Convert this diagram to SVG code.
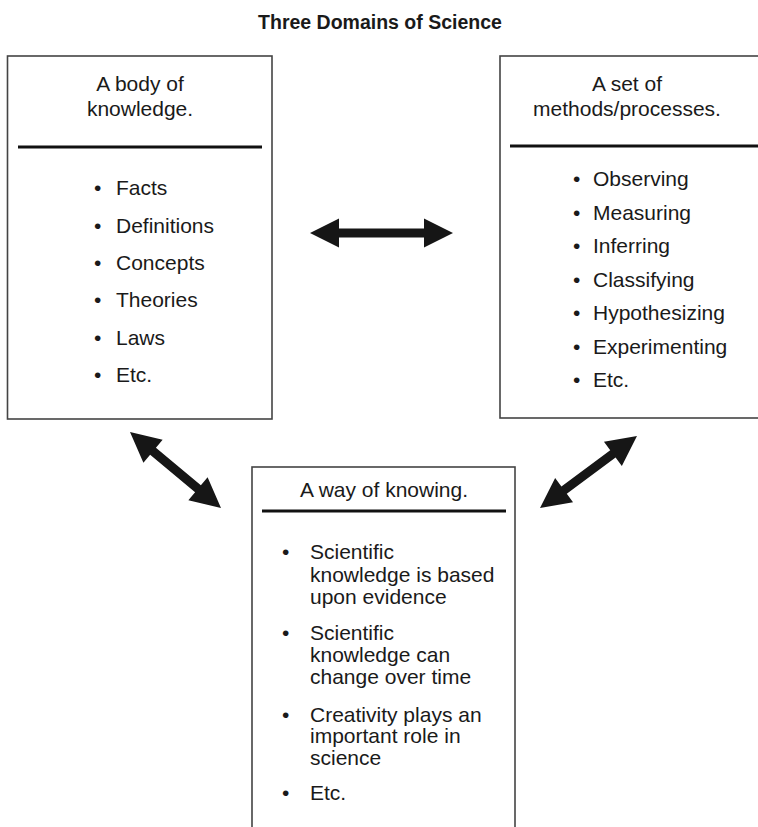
<svg xmlns="http://www.w3.org/2000/svg" width="758" height="827" viewBox="0 0 758 827">
<defs>
<style>
.t{font-family:"Liberation Sans",Arial,sans-serif;font-size:21px;fill:#1a1a1a}
.h{text-anchor:middle}
.title{font-family:"Liberation Sans",Arial,sans-serif;font-size:19.5px;font-weight:bold;fill:#1a1a1a;text-anchor:middle}
.box{fill:#fff;stroke:#444;stroke-width:1.6}
.rule{stroke:#111;stroke-width:3.2}
.arr{fill:#161616}
</style>
</defs>
<rect width="758" height="827" fill="#fff"/>
<text class="title" x="380" y="29">Three Domains of Science</text>

<g id="node-knowledge">
<rect class="box" x="7.5" y="56" width="264.5" height="363"/>
<text class="t h" x="140" y="91">A body of</text>
<text class="t h" x="140" y="116">knowledge.</text>
<line class="rule" x1="18" y1="147" x2="262" y2="147"/>
<text class="t" x="94" y="195">•</text><text class="t" x="116" y="195">Facts</text>
<text class="t" x="94" y="232.5">•</text><text class="t" x="116" y="232.5">Definitions</text>
<text class="t" x="94" y="270">•</text><text class="t" x="116" y="270">Concepts</text>
<text class="t" x="94" y="307">•</text><text class="t" x="116" y="307">Theories</text>
<text class="t" x="94" y="344.5">•</text><text class="t" x="116" y="344.5">Laws</text>
<text class="t" x="94" y="382">•</text><text class="t" x="116" y="382">Etc.</text>
</g>

<g id="node-methods">
<rect class="box" x="500" y="56" width="280" height="362"/>
<text class="t h" x="627" y="91">A set of</text>
<text class="t h" x="627" y="116">methods/processes.</text>
<line class="rule" x1="510" y1="146" x2="758" y2="146"/>
<text class="t" x="573" y="186">•</text><text class="t" x="593" y="186">Observing</text>
<text class="t" x="573" y="219.5">•</text><text class="t" x="593" y="219.5">Measuring</text>
<text class="t" x="573" y="253">•</text><text class="t" x="593" y="253">Inferring</text>
<text class="t" x="573" y="286.5">•</text><text class="t" x="593" y="286.5">Classifying</text>
<text class="t" x="573" y="320">•</text><text class="t" x="593" y="320">Hypothesizing</text>
<text class="t" x="573" y="353.5">•</text><text class="t" x="593" y="353.5">Experimenting</text>
<text class="t" x="573" y="387">•</text><text class="t" x="593" y="387">Etc.</text>
</g>

<g id="node-knowing">
<rect class="box" x="252" y="467" width="263" height="380"/>
<text class="t h" x="384" y="497">A way of knowing.</text>
<line class="rule" x1="262" y1="511" x2="506" y2="511"/>
<text class="t" x="282" y="559">•</text>
<text class="t" x="310" y="559">Scientific</text>
<text class="t" x="310" y="581.5">knowledge is based</text>
<text class="t" x="310" y="604">upon evidence</text>
<text class="t" x="282" y="639.5">•</text>
<text class="t" x="310" y="639.5">Scientific</text>
<text class="t" x="310" y="662">knowledge can</text>
<text class="t" x="310" y="684">change over time</text>
<text class="t" x="282" y="721.5">•</text>
<text class="t" x="310" y="721.5">Creativity plays an</text>
<text class="t" x="310" y="743">important role in</text>
<text class="t" x="310" y="764.5">science</text>
<text class="t" x="282" y="800">•</text>
<text class="t" x="310" y="800">Etc.</text>
</g>

<g id="connectors">
<polygon class="arr" points="310,233 339,218.5 339,228.5 424,228.5 424,218.5 453,233 424,247.5 424,237.5 339,237.5 339,247.5"/>
<g transform="translate(175.5,470) rotate(39.9)">
<polygon class="arr" points="-59.3,0 -29.3,-15 -29.3,-4.5 29.3,-4.5 29.3,-15 59.3,0 29.3,15 29.3,4.5 -29.3,4.5 -29.3,15"/>
</g>
<g transform="translate(588.5,472) rotate(-36.6)">
<polygon class="arr" points="-60.4,0 -30.4,-15 -30.4,-4.5 30.4,-4.5 30.4,-15 60.4,0 30.4,15 30.4,4.5 -30.4,4.5 -30.4,15"/>
</g>
</g>
</svg>
